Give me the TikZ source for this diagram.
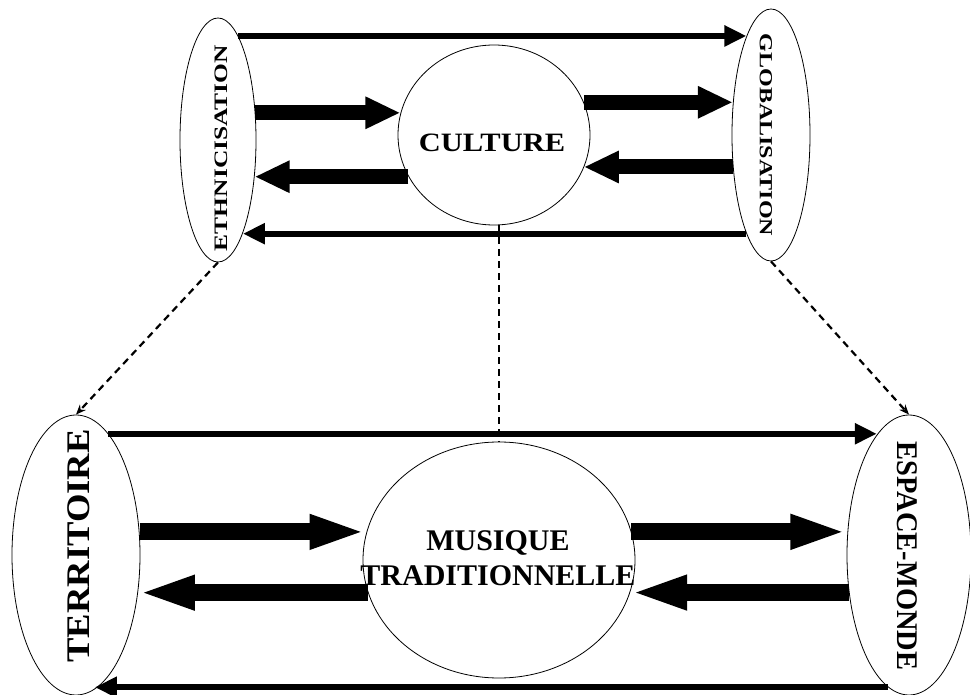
\documentclass[tikz,border=0pt]{standalone}
\usepackage{fontspec}
\setmainfont{Liberation Serif}
\usepackage{graphicx}
\usetikzlibrary{shapes.geometric,arrows.meta}
\tikzset{
  oval/.style={draw, ellipse, inner sep=0pt, line width=0.8pt},
  lbl/.style={inner sep=0pt, font=\bfseries},
  thinarrow/.style={line width=6pt, -{Triangle[length=22pt,width=20pt]}},
  bigarrow/.style={line width=15pt, -{Triangle[length=35pt,width=30pt]}},
  hugearrow/.style={line width=17pt, -{Triangle[length=57pt,width=31pt]}},
  dasharrow/.style={line width=2.2pt, dash pattern=on 7pt off 5pt, -{Stealth[length=10pt,width=8pt]}},
  dashline/.style={line width=2.2pt, dash pattern=on 7pt off 5pt}
}
\newcommand{\fs}[1]{\fontsize{#1}{#1}\selectfont}
\begin{document}
\begin{tikzpicture}[x=1pt,y=-1pt]
\useasboundingbox (0,0) rectangle (970,695);
% ovals
\node[oval, minimum width=76pt, minimum height=244pt] (eth) at (218,140) {};
\node[oval, minimum width=78pt, minimum height=252pt] (glob) at (771,135) {};
\node[oval, minimum width=192pt, minimum height=180pt] (cult) at (494,135) {};
\node[oval, minimum width=128pt, minimum height=280pt] (terr) at (76,555) {};
\node[oval, minimum width=124pt, minimum height=280pt] (esp) at (909,555) {};
\node[oval, minimum width=272pt, minimum height=236pt] (mus) at (499,560) {};
% labels
\node[lbl, rotate=90] (ethT) at (221,148) {\fs{19}\scalebox{1.34}[1]{ETHNICISATION}};
\node[lbl, rotate=-90] (globT) at (766,135) {\fs{18.5}\scalebox{1.30}[1]{GLOBALISATION}};
\node[lbl, anchor=base] (cultT) at (492,152) {\fs{26.5}\scalebox{1.15}[1]{CULTURE}};
\node[lbl, rotate=90] (terrT) at (79,546) {\fs{33}\scalebox{1.11}[1]{TERRITOIRE}};
\node[lbl, rotate=-90] (espT) at (907,556) {\fs{30}\scalebox{0.95}[1]{ESPACE-MONDE}};
\node[lbl, anchor=base] (musT1) at (498,550) {\fs{30}MUSIQUE};
\node[lbl, anchor=base] (musT2) at (498,585) {\fs{30}TRADITIONNELLE};
% top connectors
\draw[thinarrow] (eth.79) -- (eth.79 -| glob.104);
\draw[bigarrow] (eth.36) -- (eth.36 -| cult.167);
\draw[bigarrow] (cult.206) -- (cult.206 -| eth.315);
\draw[thinarrow] (glob.256) -- (glob.256 -| eth.285);
\draw[bigarrow] (cult.20) -- (cult.20 -| glob.140);
\draw[bigarrow] (glob.220) -- (glob.220 -| cult.340);
% bottom connectors
\draw[thinarrow] (terr.75) -- (terr.75 -| esp.105);
\draw[hugearrow] (terr.20) -- (terr.20 -| mus.168);
\draw[hugearrow] (mus.194) -- (mus.194 -| terr.328);
\draw[hugearrow] (mus.12) -- (mus.12 -| esp.159);
\draw[hugearrow] (esp.212) -- (esp.212 -| mus.346);
\draw[thinarrow] (esp.261) -- (esp.261 -| terr.278);
% dashed links
\draw[dasharrow] (eth.south) -- (terr.north);
\draw[dasharrow] (glob.south) -- (esp.north);
\draw[dashline] (cult.south -| mus.north) -- (mus.north);
\end{tikzpicture}
\end{document}
